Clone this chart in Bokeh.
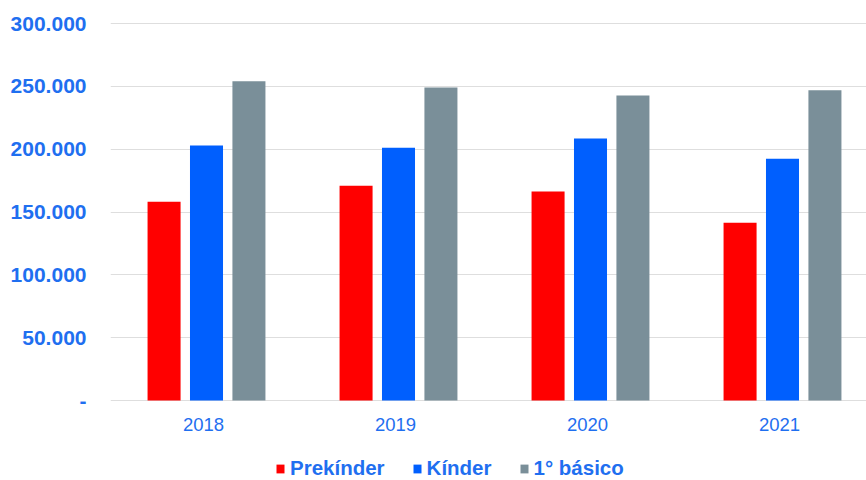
from bokeh.plotting import figure
from bokeh.models import Range1d, FixedTicker, Legend, LegendItem, ColumnDataSource
from bokeh.core.properties import value
from bokeh.embed import file_html
from bokeh.resources import INLINE

years = ["2018", "2019", "2020", "2021"]
prekinder = [158200, 170900, 166400, 141400]
kinder = [203000, 201100, 208600, 192400]
basico = [254200, 249100, 242800, 247000]
series_names = ["Prekínder", "Kínder", "1° básico"]
colors = ["#ff0000", "#005ffe", "#7a8f99"]
y_ticks = [0, 50000, 100000, 150000, 200000, 250000, 300000]

BLUE = "#1f6ff0"
FONT = "Liberation Sans"

p = figure(width=866, height=480, output_backend="svg", toolbar_location=None,
           x_range=Range1d(0, 3.9375), y_range=Range1d(-63680, 302480),
           x_axis_location=None)
p.min_border_left = 110
p.min_border_right = 0
p.min_border_top = 20
p.min_border_bottom = 0
p.outline_line_color = None
p.background_fill_color = "white"
p.border_fill_color = "white"

centers = [i + 0.5 for i in range(len(years))]
offsets = [-0.221, 0.0, 0.221]
renderers = []
for vals, off, col in zip([prekinder, kinder, basico], offsets, colors):
    src = ColumnDataSource(dict(x=[c + off for c in centers], top=vals))
    r = p.vbar(x="x", top="top", width=0.172, source=src, fill_color=col,
               line_color=None)
    renderers.append(r)

# category labels under the baseline
lab = ColumnDataSource(dict(x=centers, y=[0] * len(years), text=years))
p.text(x="x", y="y", text="text", source=lab, text_align="center",
       text_baseline="top", y_offset=17, x_offset=-3, text_font=value(FONT),
       text_font_size="18.5px", text_color=BLUE)

p.yaxis.ticker = FixedTicker(ticks=y_ticks)
p.yaxis.major_label_overrides = {t: ("-" if t == 0 else f"{t:,}".replace(",", ".")) for t in y_ticks}
p.yaxis.axis_line_color = None
p.yaxis.major_tick_line_color = None
p.yaxis.minor_tick_line_color = None
p.yaxis.major_tick_out = 0
p.yaxis.major_tick_in = 0
p.yaxis.major_label_text_font = FONT
p.yaxis.major_label_text_font_size = "21px"
p.yaxis.major_label_text_font_style = "bold"
p.yaxis.major_label_text_color = BLUE
p.yaxis.major_label_standoff = 24

p.xgrid.grid_line_color = None
p.ygrid.grid_line_color = "#dedede"
p.ygrid.grid_line_width = 1

legend = Legend(items=[LegendItem(label=n, renderers=[r]) for n, r in zip(series_names, renderers)],
                orientation="horizontal", location=(165, 0))
legend.label_text_font = FONT
legend.label_text_font_size = "20.5px"
legend.label_text_font_style = "bold"
legend.label_text_color = BLUE
legend.glyph_width = 10
legend.glyph_height = 11
legend.label_standoff = 5
legend.spacing = 27
legend.padding = 2
legend.margin = 0
legend.border_line_color = None
legend.background_fill_alpha = 0
p.add_layout(legend)

open("out.html", "w").write(file_html(p, INLINE))
